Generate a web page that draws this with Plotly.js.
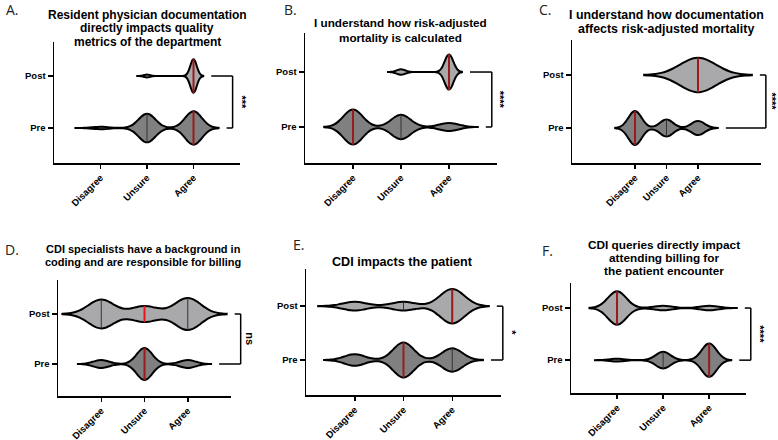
<!doctype html>
<html><head><meta charset="utf-8" />
<script src="https://cdn.plot.ly/plotly-3.0.1.min.js"></script>
<style>
  body { margin:0; background:#fff; }
  #chart { width:778px; height:440px; }
</style></head>
<body>
<div id="chart"></div>
<script>
// survey answers, pre vs post — counts per answer (Disagree, Unsure, Agree)
const CATS = ['Disagree', 'Unsure', 'Agree'];
const GROUPS = ['Pre', 'Post'];
const LETTERS = ['A.', 'B.', 'C.', 'D.', 'E.', 'F.'];
const TITLES = [
  ['Resident physician documentation', 'directly impacts quality', 'metrics of the department'],
  ['I understand how risk-adjusted', 'mortality is calculated'],
  ['I understand how documentation', 'affects risk-adjusted mortality'],
  ['CDI specialists have a background in', 'coding and are responsible for billing'],
  ['CDI impacts the patient'],
  ['CDI queries directly impact', 'attending billing for', 'the patient encounter'],
];
const PRE_COUNTS  = [[1, 12, 14], [13, 9, 3], [12, 6, 5], [2, 8, 2], [4, 12, 8], [1, 6, 12]];
const POST_COUNTS = [[0, 1, 12], [0, 2, 13], [0, 0, 14], [9, 5, 10], [3, 3, 12], [15, 2, 2]];
const SIGNIF = ['***', '****', '****', 'ns', '*', '****'];
// kde bandwidth per violin (Prism smoothing differs per group)
const PRE_BW  = [0.18, 0.2, 0.21, 0.18, 0.21, 0.16];
const POST_BW = [0.07, 0.09, 0.57, 0.3, 0.25, 0.2];

// ── panel boxes in px (plot area) + axis ranges ──
const W = 778, H = 440;
const PANELS = [
  { px: [54, 240],  py: [42, 163],  xr: [0, 4],   yr: [-0.673, 1.654], title: [147, [15, 28, 42], 12],    letter: [4, 9] },
  { px: [305, 497], py: [33, 163],  xr: [0, 4],   yr: [-0.655, 1.71],  title: [400, [23, 37], 11.7],      letter: [282, 9] },
  { px: [572, 761], py: [40, 163],  xr: [-1, 5],  yr: [-0.66, 1.66],   title: [666, [15, 29], 12.4],      letter: [537, 9] },
  { px: [58, 231],  py: [280, 396], xr: [0, 4],   yr: [-0.64, 1.68],   title: [143, [249, 262], 11],      letter: [3, 249] },
  { px: [306, 501], py: [269, 395], xr: [0, 4],   yr: [-0.65, 1.69],   title: [403, [262], 12.6],         letter: [291, 244] },
  { px: [571, 746], py: [283, 393], xr: [0, 3.8], yr: [-0.63, 1.48],   title: [664, [245, 258, 271], 11.8], letter: [540, 250] },
];
const VW = 0.64;                // violin width (y units)
const FILL = { Pre: '#808080', Post: '#a9a9ab' };
const MED = '#9b1b1b';
const FONT = 'Liberation Sans, Arial, sans-serif';

const expand = (c) => c.flatMap((n, k) => Array(n).fill(k + 1));

// same gaussian kde as plotly's violin, to place the quartile lines
function kde(vals, bw, x) {
  let s = 0;
  for (const v of vals) { const u = (x - v) / bw; s += Math.exp(-0.5 * u * u); }
  return s / (vals.length * bw * Math.sqrt(2 * Math.PI));
}
function maxKde(vals, bw, span) {
  const dist = span[1] - span[0];
  const n = Math.ceil(dist / (bw / 3));
  const step = dist / n;
  let m = 0;
  for (let t = span[0]; t < span[1] + step / 2; t += step) m = Math.max(m, kde(vals, bw, t));
  return m;
}
function quant(s, p) {
  const n = s.length, pos = (n + 1) * p, lo = Math.floor(pos), f = pos - lo;
  const a = s[Math.max(0, Math.min(n - 1, lo - 1))], b = s[Math.min(n - 1, Math.max(0, lo))];
  return a + f * (b - a);
}

const traces = [], shapes = [], annotations = [], layout = {
  width: W, height: H, margin: { l: 0, r: 0, t: 0, b: 0 },
  paper_bgcolor: '#fff', plot_bgcolor: '#fff', showlegend: false,
  font: { family: FONT, color: '#000' },
};

PANELS.forEach((P, i) => {
  const sfx = i ? String(i + 1) : '';
  const xa = 'x' + sfx, ya = 'y' + sfx;
  layout['xaxis' + sfx] = {
    domain: [P.px[0] / W, P.px[1] / W], range: P.xr, anchor: ya,
    tickvals: [1, 2, 3], ticktext: CATS, tickangle: -45,
    ticks: 'outside', ticklen: 4, tickwidth: 1.5, tickcolor: '#000',
    showline: true, linewidth: 1.5, linecolor: '#000', showgrid: false, zeroline: false,
    tickfont: { family: FONT, size: 9.5, weight: 700, color: '#000' },
  };
  layout['yaxis' + sfx] = {
    domain: [1 - P.py[1] / H, 1 - P.py[0] / H], range: P.yr, anchor: xa, type: 'linear',
    tickvals: [0, 1], ticktext: GROUPS,
    ticks: 'outside', ticklen: 5, tickwidth: 1.5, tickcolor: '#000',
    showline: true, linewidth: 1.5, linecolor: '#000', showgrid: false, zeroline: false,
    tickfont: { family: FONT, size: 9.5, weight: 700, color: '#000' },
  };

  const wpx = P.px[1] - P.px[0];
  const toDomX = (v) => (v - P.xr[0]) / (P.xr[1] - P.xr[0]);
  const toDomY = (v) => (v - P.yr[0]) / (P.yr[1] - P.yr[0]);
  const ends = {};

  [['Pre', PRE_COUNTS[i], PRE_BW[i], 0], ['Post', POST_COUNTS[i], POST_BW[i], 1]].forEach(([g, counts, bw, pos]) => {
    const vals = expand(counts);
    const span = [Math.min(...vals) - 3 * bw, Math.max(...vals) + 3 * bw];
    ends[g] = span[1];
    traces.push({
      type: 'violin', orientation: 'h', x: vals, y0: pos, xaxis: xa, yaxis: ya, name: g,
      width: VW, bandwidth: bw, spanmode: 'manual', span, points: false,
      box: { visible: false }, meanline: { visible: false },
      fillcolor: FILL[g], line: { color: '#000', width: 2 }, opacity: 1, hoverinfo: 'skip',
    });
    // quartile lines (thin black) + median (red)
    const s = vals.slice().sort((a, b) => a - b);
    const mk = maxKde(vals, bw, span);
    const seg = (q, color, width) => {
      const h = (kde(vals, bw, q) / mk) * VW / 2;
      traces.push({ type: 'scatter', mode: 'lines', x: [q, q], y: [pos - h, pos + h], xaxis: xa, yaxis: ya,
        line: { color, width }, hoverinfo: 'skip' });
    };
    seg(quant(s, 0.25), '#333', 1);
    seg(quant(s, 0.75), '#333', 1);
    seg(quant(s, 0.5), (i === 3 && g === 'Post') ? '#e8141b' : MED, 2);
  });

  // significance bracket (px offsets past the violin tails)
  const xPost = toDomX(ends.Post) + 8 / wpx;
  const xPre = toDomX(ends.Pre) + 8 / wpx;
  const xv = toDomX(Math.max(ends.Post, ends.Pre)) + 14 / wpx;
  const y1 = toDomY(1), y0 = toDomY(0);
  const ln = { color: '#000', width: 1.5 };
  const ref = { xref: xa + ' domain', yref: ya + ' domain', type: 'line', line: ln };
  shapes.push({ ...ref, x0: xPost, x1: xv, y0: y1, y1: y1 });
  shapes.push({ ...ref, x0: xv, x1: xv, y0: y1, y1: y0 });
  shapes.push({ ...ref, x0: xPre, x1: xv, y0: y0, y1: y0 });
  // keep the label inside the page
  const lblPx = Math.min(P.px[0] + xv * wpx + 9, W - 6);
  annotations.push({
    xref: 'paper', yref: ya + ' domain', x: lblPx / W, y: (y0 + y1) / 2,
    text: SIGNIF[i], showarrow: false, textangle: 90, xanchor: 'center', yanchor: 'middle',
    font: { family: FONT, size: 11, weight: 700, color: '#000' },
  });

  // title lines + panel letter
  TITLES[i].forEach((t, k) => annotations.push({
    xref: 'paper', yref: 'paper', x: P.title[0] / W, y: 1 - P.title[1][k] / H,
    text: t, showarrow: false, xanchor: 'center', yanchor: 'middle',
    font: { family: FONT, size: P.title[2], weight: 700, color: '#000' },
  }));
  annotations.push({
    xref: 'paper', yref: 'paper', x: P.letter[0] / W, y: 1 - P.letter[1] / H,
    text: LETTERS[i], showarrow: false, xanchor: 'left', yanchor: 'middle',
    font: { family: 'Open Sans, sans-serif', size: 14, color: '#222' },
  });
});

layout.shapes = shapes;
layout.annotations = annotations;
Plotly.newPlot('chart', traces, layout, { staticPlot: true, displayModeBar: false });
</script>
</body></html>
